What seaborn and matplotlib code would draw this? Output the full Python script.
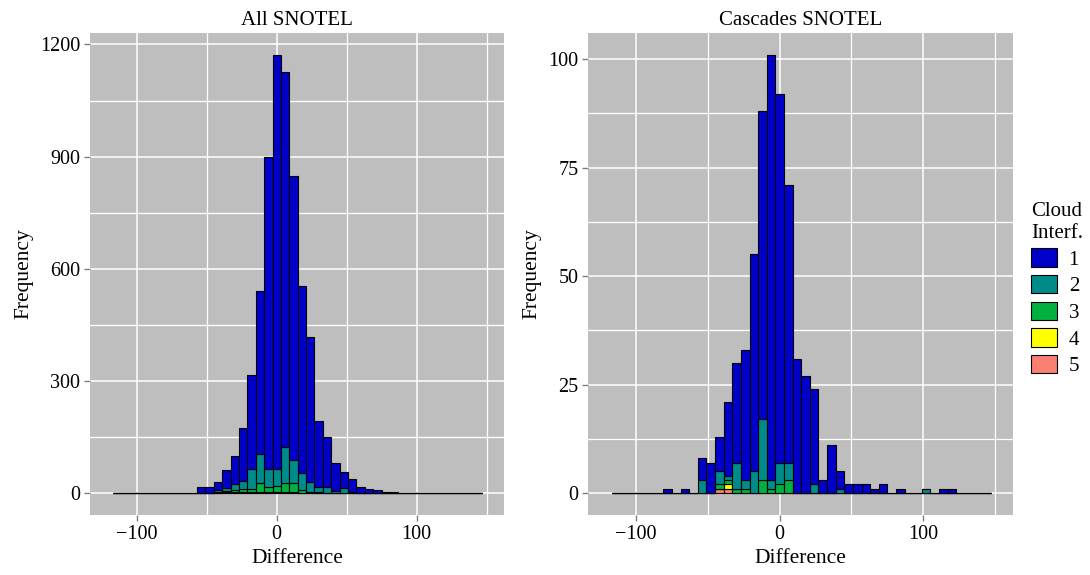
import numpy as np
import pandas as pd
import matplotlib
matplotlib.use("Agg")
import matplotlib.pyplot as plt
from matplotlib.patches import Patch
from matplotlib.ticker import MultipleLocator
import seaborn as sns

# bins of width 6 (ggplot binwidth), zero-count bins still get an outline
bin_width = 6
bin_range = (-117, 147)

# All SNOTEL: counts per cloud-interference class, per bin centre
all_centers = list(range(-54, 85, 6))
all_c1 = [15, 15, 23, 49, 76, 143, 251, 437, 836, 1108, 1003, 759, 501, 388,
          177, 134, 75, 42, 35, 15, 12, 9, 4, 3]
all_c2 = [0, 0, 5, 7, 15, 20, 52, 78, 49, 46, 97, 61, 45, 26,
          13, 14, 4, 13, 2, 0, 0, 0, 0, 0]
all_c3 = [0, 0, 2, 4, 7, 9, 10, 23, 13, 16, 24, 26, 7, 4,
          2, 1, 1, 1, 0, 0, 0, 0, 0, 0]
all_c4 = [0, 0, 1, 1, 1, 2, 1, 2, 1, 1, 1, 1, 1, 0,
          0, 0, 0, 0, 0, 0, 0, 0, 0, 0]
all_c5 = [0, 0, 0, 1, 1, 1, 1, 1, 1, 1, 1, 1, 0, 0,
          0, 0, 0, 0, 0, 0, 0, 0, 0, 0]

# Cascades SNOTEL
cas_centers = list(range(-78, 121, 6))
cas_c1 = [1, 0, 1, 0, 5, 7, 8, 17, 23, 30, 50, 71, 98, 85, 64, 31, 27, 22,
          3, 11, 4, 2, 2, 2, 1, 2, 0, 1, 0, 0, 0, 0, 1, 1]
cas_c2 = [0, 0, 0, 0, 3, 0, 3, 1, 6, 2, 5, 14, 2, 5, 4, 0, 0, 2,
          0, 0, 1, 0, 0, 0, 0, 0, 0, 0, 0, 0, 1, 0, 0, 0]
cas_c3 = [0, 0, 0, 0, 0, 0, 1, 1, 1, 1, 0, 3, 1, 2, 3, 0, 0, 0,
          0, 0, 0, 0, 0, 0, 0, 0, 0, 0, 0, 0, 0, 0, 0, 0]
cas_c4 = [0] * 7 + [1] + [0] * 26
cas_c5 = [0] * 6 + [1, 1] + [0] * 26

classes = [1, 2, 3, 4, 5]
palette = {1: "#0000C8", 2: "#008B8B", 3: "#00B140", 4: "#FFFF00", 5: "#FA8072"}


def long_frame(centers, cols):
    rows = []
    for cl, counts in zip(classes, cols):
        for c, n in zip(centers, counts):
            rows.append({"Difference": c, "n": n, "cloud": cl})
    return pd.DataFrame(rows)


df_all = long_frame(all_centers, [all_c1, all_c2, all_c3, all_c4, all_c5])
df_cas = long_frame(cas_centers, [cas_c1, cas_c2, cas_c3, cas_c4, cas_c5])

plt.rcParams["font.family"] = ["Liberation Serif", "DejaVu Serif"]

fig = plt.figure(figsize=(10.9, 5.75), dpi=100)
ax1 = fig.add_axes([90 / 1090, 1 - 515 / 575, 414 / 1090, 482 / 575])
ax2 = fig.add_axes([588 / 1090, 1 - 515 / 575, 425 / 1090, 482 / 575])

panels = [
    (ax1, df_all, "All SNOTEL", (-58.6, 1230.6), 300),
    (ax2, df_cas, "Cascades SNOTEL", (-5.05, 106.0), 25),
]

for ax, df, title, ylim, ystep in panels:
    sns.histplot(data=df, x="Difference", weights="n", hue="cloud",
                 hue_order=classes, palette=palette, binwidth=bin_width,
                 binrange=bin_range, multiple="stack", alpha=1,
                 edgecolor="black", linewidth=0.8, legend=False, ax=ax)
    ax.set_facecolor("#BEBEBE")
    for s in ax.spines.values():
        s.set_visible(False)
    ax.set_xlim(-133.5, 162.5)
    ax.set_ylim(*ylim)
    ax.xaxis.set_minor_locator(MultipleLocator(50))
    ax.yaxis.set_major_locator(MultipleLocator(ystep))
    ax.yaxis.set_minor_locator(MultipleLocator(ystep / 2))
    ax.set_axisbelow(True)
    ax.grid(which="major", color="white", linewidth=1.1)
    ax.grid(which="minor", color="white", linewidth=0.9)
    ax.tick_params(which="major", length=4, width=1, color="#7F7F7F",
                   labelsize=14.5, labelcolor="black", pad=3)
    ax.tick_params(which="minor", length=0)
    ax.set_xticks([-100, 0, 100])
    ax.set_xticklabels(["\u2212100", "0", "100"])
    ax.set_title(title, fontsize=15, pad=6)
    ax.set_xlabel("Difference", fontsize=15.5, labelpad=4)
    ax.set_ylabel("Frequency", fontsize=15.5, labelpad=5)

handles = [Patch(facecolor=palette[c], edgecolor="black", linewidth=0.8) for c in classes]
leg = fig.legend(handles, [str(c) for c in classes], title="Cloud\nInterf.",
                 loc="center left", bbox_to_anchor=(0.946, 0.497), frameon=False,
                 fontsize=15, title_fontsize=15, handlelength=1.25,
                 handleheight=1.0, labelspacing=0.25, handletextpad=0.55,
                 borderaxespad=0.0, borderpad=0.0, alignment="left")

fig.savefig("out.png", dpi=100)
